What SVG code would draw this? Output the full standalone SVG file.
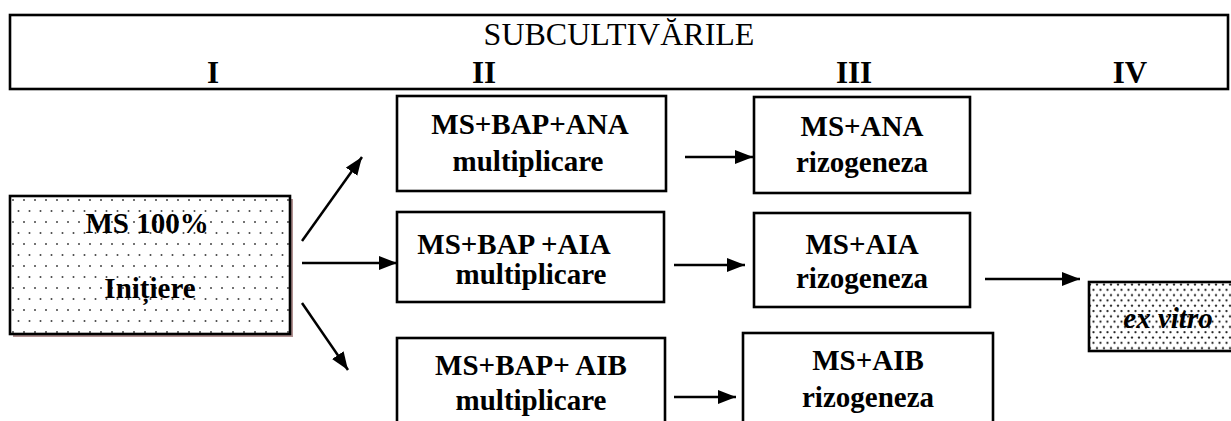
<svg xmlns="http://www.w3.org/2000/svg" width="1231" height="421" viewBox="0 0 1231 421">
<style>
.box{fill:#fff;stroke:#000;stroke-width:2.6}
.t{font-family:'Liberation Serif',serif;font-weight:bold;font-size:29px;fill:#000;text-anchor:middle}
.h{font-family:'Liberation Serif',serif;font-size:32px;fill:#000;text-anchor:middle}
.hb{font-family:'Liberation Serif',serif;font-weight:bold;font-size:31px;fill:#000;text-anchor:middle}
.c{stroke:#000;stroke-width:2.5;fill:none}
</style>
<defs>
<pattern id="dots1" x="10" y="196" width="11" height="22" patternUnits="userSpaceOnUse">
<circle cx="3" cy="4" r="1" fill="#444"/>
<circle cx="8.5" cy="15" r="1" fill="#444"/>
</pattern>
<pattern id="dots2" x="1088" y="282" width="7" height="10.6" patternUnits="userSpaceOnUse">
<circle cx="2" cy="2.5" r="1.15" fill="#222"/>
<circle cx="5.5" cy="7.8" r="1.15" fill="#222"/>
</pattern>
<marker id="ah" markerUnits="userSpaceOnUse" markerWidth="20" markerHeight="16" refX="18" refY="7" orient="auto">
<path d="M0,0 L18,7 L0,14 Z" fill="#000"/>
</marker>
</defs>
<g id="header">
<rect class="box" x="10" y="15" width="1218" height="74" fill="none"/>
<text class="h" x="619" y="45">SUBCULTIVĂRILE</text>
<text class="hb" x="213" y="83">I</text>
<text class="hb" x="484" y="83">II</text>
<text class="hb" x="854" y="83">III</text>
<text class="hb" x="1130" y="83">IV</text>
</g>
<g id="n-init">
<rect x="13" y="199" width="280" height="138" fill="#b09090"/>
<rect x="10" y="196" width="280" height="138" fill="#fff"/>
<rect x="10" y="196" width="280" height="138" fill="url(#dots1)" stroke="#000" stroke-width="2.6"/>
<text class="t" x="147" y="233">MS 100%</text>
<text class="t" x="150" y="298">Inițiere</text>
</g>
<g id="n-ana-m">
<rect class="box" x="397" y="96" width="269" height="95"/>
<text class="t" x="530" y="134">MS+BAP+ANA</text>
<text class="t" x="528" y="171">multiplicare</text>
</g>
<g id="n-ana-r">
<rect class="box" x="754" y="97" width="216" height="96"/>
<text class="t" x="862" y="136">MS+ANA</text>
<text class="t" x="862" y="172">rizogeneza</text>
</g>
<g id="n-aia-m">
<rect class="box" x="397" y="212" width="267" height="90"/>
<text class="t" x="514" y="254">MS+BAP +AIA</text>
<text class="t" x="531" y="284">multiplicare</text>
</g>
<g id="n-aia-r">
<rect class="box" x="754" y="213" width="216" height="94"/>
<text class="t" x="862" y="254">MS+AIA</text>
<text class="t" x="862" y="288">rizogeneza</text>
</g>
<g id="n-aib-m">
<rect class="box" x="397" y="338" width="268" height="100"/>
<text class="t" x="531" y="375">MS+BAP+ AIB</text>
<text class="t" x="531" y="410">multiplicare</text>
</g>
<g id="n-aib-r">
<rect class="box" x="743" y="333" width="250" height="100"/>
<text class="t" x="868" y="370">MS+AIB</text>
<text class="t" x="868" y="407">rizogeneza</text>
</g>
<g id="n-exvitro">
<rect x="1089" y="282" width="150" height="69" fill="#fff"/>
<rect x="1089" y="282" width="150" height="69" fill="url(#dots2)" stroke="#000" stroke-width="2.6"/>
<text x="1168" y="328" font-family="Liberation Serif" font-weight="bold" font-style="italic" font-size="29" text-anchor="middle">ex vitro</text>
</g>
<g id="connectors">
<line class="c" x1="302" y1="241" x2="362" y2="157" marker-end="url(#ah)"/>
<line class="c" x1="302" y1="263" x2="397" y2="263" marker-end="url(#ah)"/>
<line class="c" x1="302" y1="303" x2="348" y2="370" marker-end="url(#ah)"/>
<line class="c" x1="685" y1="157" x2="753" y2="157" marker-end="url(#ah)"/>
<line class="c" x1="674" y1="265" x2="745" y2="265" marker-end="url(#ah)"/>
<line class="c" x1="674" y1="397" x2="736" y2="397" marker-end="url(#ah)"/>
<line class="c" x1="985" y1="279" x2="1080" y2="279" marker-end="url(#ah)"/>
</g>
</svg>
